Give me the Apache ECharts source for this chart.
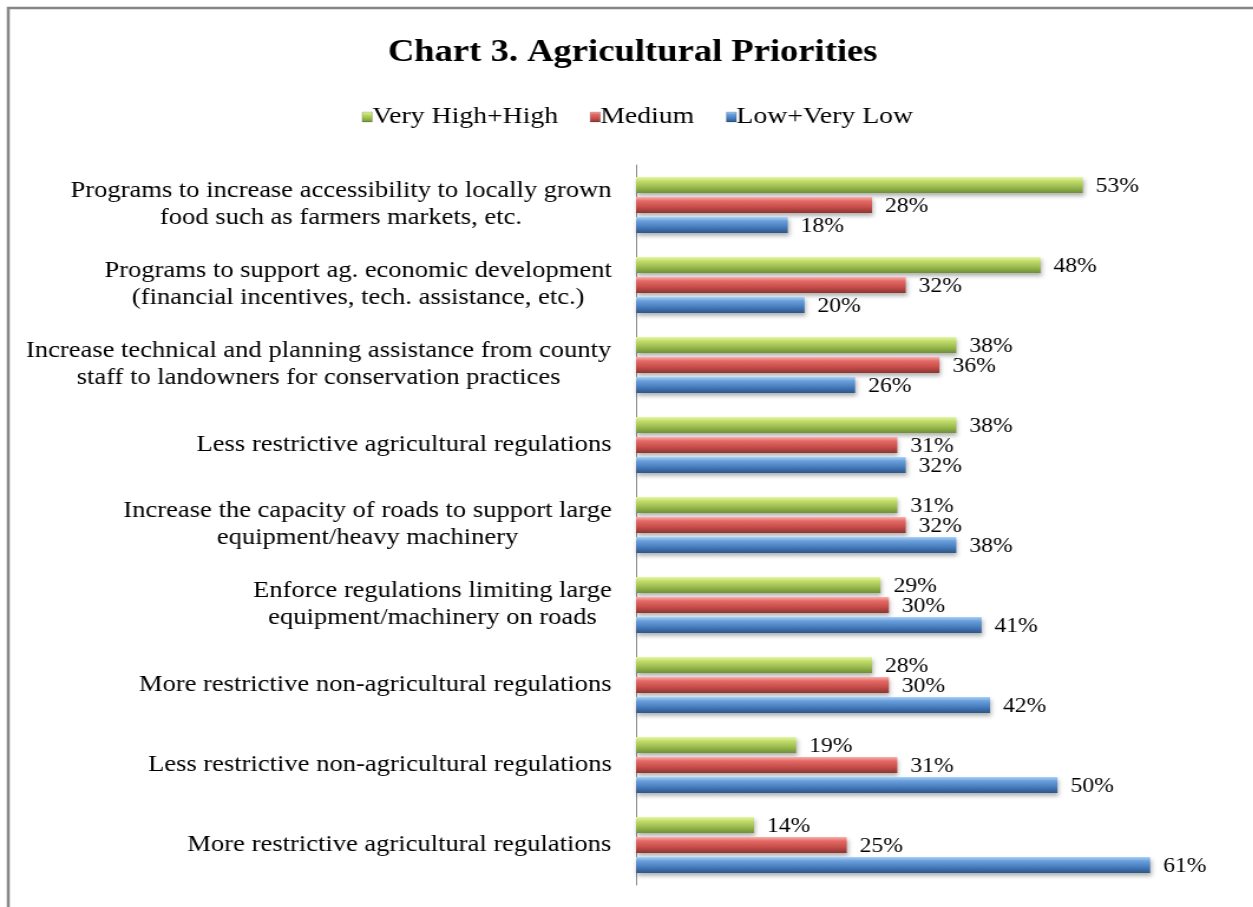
<!DOCTYPE html>
<html>
<head>
<meta charset="utf-8">
<script src="https://cdn.jsdelivr.net/npm/echarts@6/dist/echarts.min.js"></script>
<style>
html,body{margin:0;padding:0;background:#fff;overflow:hidden;}
#wrap{width:1253px;height:907px;overflow:hidden;}
#c{width:1062px;height:907px;transform:scaleX(1.18);transform-origin:0 0;}
</style>
</head>
<body>
<div id="wrap"><div id="c"></div></div>
<script>
var categories = [
  "Programs to increase accessibility to locally grown\nfood such as farmers markets, etc.",
  "Programs to support ag. economic development\n(financial incentives, tech. assistance, etc.)",
  "Increase technical and planning assistance from county\nstaff to landowners for conservation practices",
  "Less restrictive agricultural regulations",
  "Increase the capacity of roads to support large\nequipment/heavy machinery",
  "Enforce regulations limiting large\nequipment/machinery on roads",
  "More restrictive non-agricultural regulations",
  "Less restrictive non-agricultural regulations",
  "More restrictive agricultural regulations"
];
var seriesNames = ["Very High+High", "Medium", "Low+Very Low"];
var highValues = [53, 48, 38, 38, 31, 29, 28, 19, 14];
var mediumValues = [28, 32, 36, 31, 32, 30, 30, 31, 25];
var lowValues = [18, 20, 26, 32, 38, 41, 42, 50, 61];

// the reference picture is horizontally stretched; chart is laid out in unstretched space
var S = 1.18;
var FONT = "'Liberation Serif', 'Times New Roman', serif";
var catFontSize = 22.5;

var cv = document.createElement('canvas').getContext('2d');
cv.font = catFontSize + 'px ' + FONT;
var rich = {};
categories.forEach(function (c, i) {
  var w = 0;
  c.split('\n').forEach(function (l) { w = Math.max(w, cv.measureText(l).width); });
  rich['w' + i] = { width: Math.ceil(w) + 1, align: 'center', fontFamily: FONT, fontSize: catFontSize, color: '#000', lineHeight: 27 };
});

function grad(a, b, c, d) {
  return new echarts.graphic.LinearGradient(0, 0, 0, 1, [
    { offset: 0, color: a }, { offset: 0.25, color: b }, { offset: 0.6, color: c }, { offset: 1, color: d }
  ]);
}
var styles = [
  { color: grad('#e6f7a6', '#c2dd6c', '#9ebe52', '#718f34'), legend: '#9bbb59' },
  { color: grad('#f9b1ae', '#e46a66', '#c9504c', '#8e3432'), legend: '#c0504d' },
  { color: grad('#a9d2fa', '#6a9fdc', '#4a7fc0', '#2b5689'), legend: '#4f81bd' }
];
var dataSets = [highValues, mediumValues, lowValues];

var chart = echarts.init(document.getElementById('c'));
chart.setOption({
  animation: false,
  backgroundColor: '#fff',
  title: {
    text: 'Chart 3. Agricultural Priorities',
    left: 382 / S, top: 32,
    textStyle: { fontFamily: FONT, fontWeight: 'bold', fontSize: 31, color: '#000' }
  },
  legend: {
    top: 100, left: 356 / S,
    itemWidth: 8.5, itemHeight: 10, itemGap: 27,
    textStyle: { fontFamily: FONT, fontSize: 23.5, color: '#000', padding: [0, 0, 0, -5] },
    data: seriesNames.map(function (n, i) { return { name: n, icon: 'rect', itemStyle: { color: styles[i].color, borderColor: 'rgba(0,0,0,0.3)', borderWidth: 0.5 } }; })
  },
  grid: { left: 636 / S, top: 165, width: 590 / S, height: 720, containLabel: false },
  xAxis: { type: 'value', min: 0, max: 70, show: false, splitLine: { show: false } },
  yAxis: {
    type: 'category', inverse: true, data: categories,
    axisTick: { show: false },
    axisLine: { lineStyle: { color: '#868686', width: 1 } },
    axisLabel: {
      margin: 20,
      formatter: function (v, i) {
        return v.split('\n').map(function (l) { return '{w' + i + '|' + l + '}'; }).join('\n');
      },
      rich: rich
    }
  },
  series: dataSets.map(function (d, i) {
    return {
      name: seriesNames[i], type: 'bar', data: d,
      barWidth: 16, barGap: '25%',
      itemStyle: {
        color: styles[i].color,
        shadowColor: 'rgba(0,0,0,0.3)', shadowBlur: 4, shadowOffsetY: 3, shadowOffsetX: 1
      },
      label: {
        show: true, position: 'right', distance: 11, offset: [0, 2],
        formatter: '{c}%',
        fontFamily: FONT, fontSize: 20, color: '#000'
      }
    };
  }),
  graphic: [
    { type: 'polyline', shape: { points: [[7, 907], [7, 8], [1100, 8]] }, style: { stroke: '#868686', lineWidth: 2.5, fill: null }, silent: true }
  ]
});
</script>
</body>
</html>
